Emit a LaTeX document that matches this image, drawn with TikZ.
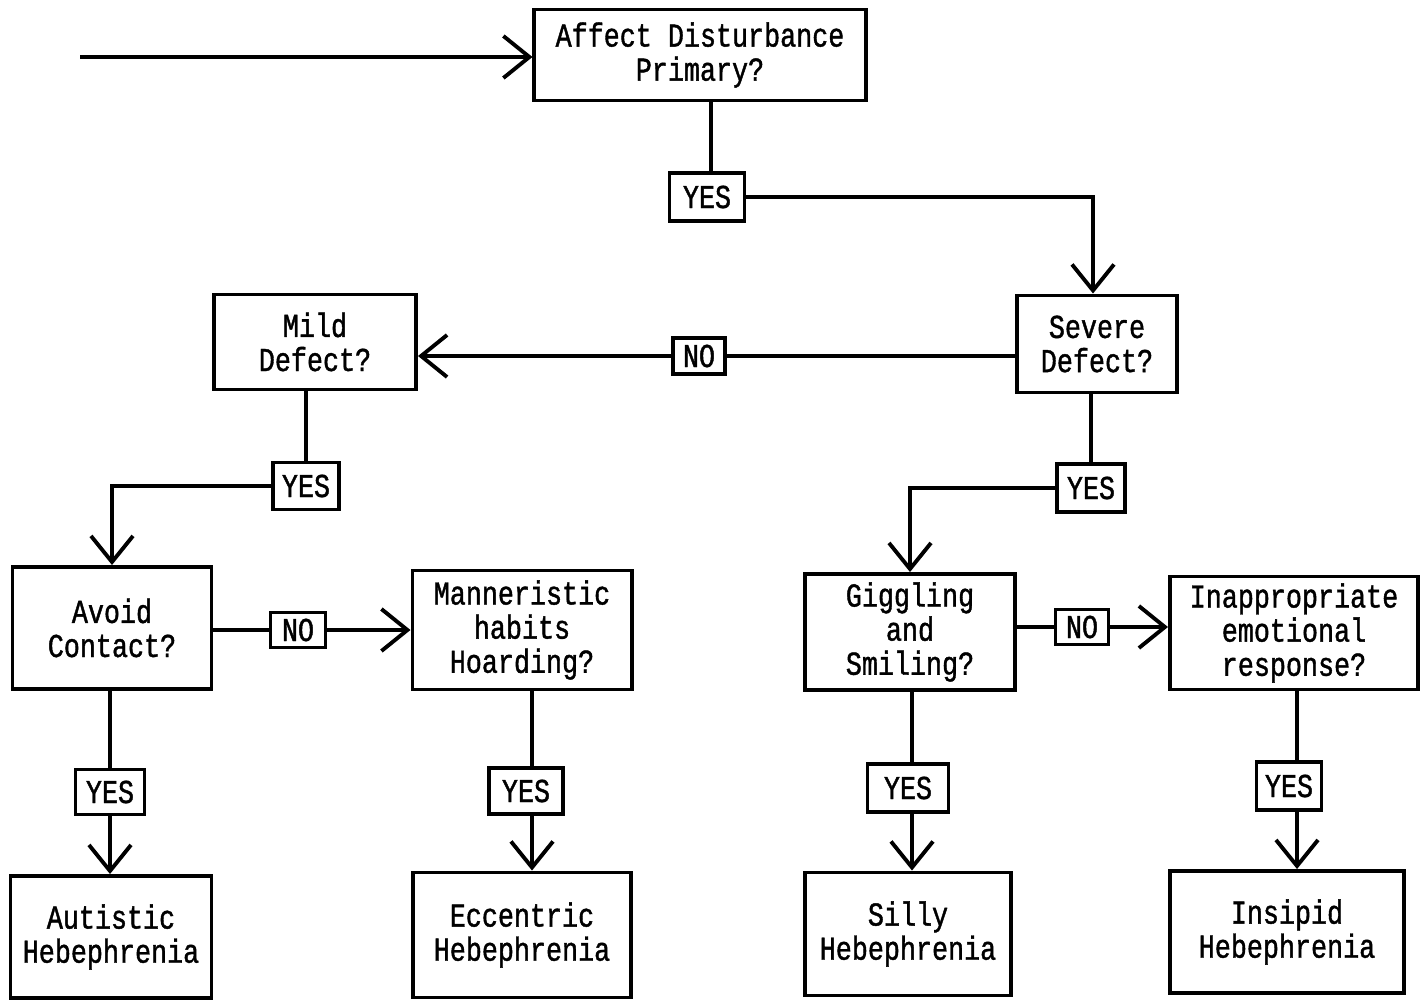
\documentclass[tikz,border=0pt]{standalone}
\usepackage{fontspec}
\newfontfamily\chartfont[FakeStretch=0.8,FakeBold=1.2]{Liberation Mono}
\usetikzlibrary{arrows.meta}

\tikzset{
  box/.style={draw, line width=1.1pt, align=center, inner sep=0pt,
    font=\chartfont\fontsize{9.5}{9.7}\selectfont},
  answer/.style={draw, line width=1.1pt, inner sep=0pt,
    font=\chartfont\fontsize{9.5}{9.7}\selectfont},
  link/.style={line width=1.1pt},
  flow/.style={line width=1.1pt, -{Straight Barb[length=2.6mm,width=4.2mm,line width=1.1pt]}}
}

\begin{document}
\begin{tikzpicture}[x=0.01cm,y=-0.01cm]
	\useasboundingbox (0,0) rectangle (1427,1000);
	
	% questions
	\node[box, minimum width=3.31cm, minimum height=0.91cm] (affect) at (700,55) {Affect Disturbance\\Primary?};
	\node[box, minimum width=1.60cm, minimum height=0.97cm] (severe) at (1097,344) {Severe\\Defect?};
	\node[box, minimum width=2.02cm, minimum height=0.95cm] (mild) at (315,342) {Mild\\Defect?};
	\node[box, minimum width=1.99cm, minimum height=1.22cm] (avoid) at (112,628) {Avoid\\Contact?};
	\node[box, minimum width=2.19cm, minimum height=1.19cm] (mannered) at (522,630) {Manneristic\\habits\\Hoarding?};
	\node[box, minimum width=2.10cm, minimum height=1.16cm] (giggle) at (910,632) {Giggling\\and\\Smiling?};
	\node[box, minimum width=2.48cm, minimum height=1.13cm] (inapt) at (1294,633) {Inappropriate\\emotional\\response?};
	
	% outcomes
	\node[box, minimum width=2.01cm, minimum height=1.22cm] (autistic) at (111,937) {Autistic\\Hebephrenia};
	\node[box, minimum width=2.18cm, minimum height=1.25cm] (eccentric) at (522,935) {Eccentric\\Hebephrenia};
	\node[box, minimum width=2.06cm, minimum height=1.23cm] (silly) at (908,934) {Silly\\Hebephrenia};
	\node[box, minimum width=2.34cm, minimum height=1.22cm] (insipid) at (1287,932) {Insipid\\Hebephrenia};
	
	% answers
	\node[answer, minimum width=0.75cm, minimum height=0.48cm] (yesA) at (707,197) {YES};
	\node[answer, minimum width=0.52cm, minimum height=0.36cm] (noS) at (699,356) {NO};
	\node[answer, minimum width=0.66cm, minimum height=0.47cm] (yesM) at (306,486) {YES};
	\node[answer, minimum width=0.68cm, minimum height=0.48cm] (yesS) at (1091,488) {YES};
	\node[answer, minimum width=0.55cm, minimum height=0.35cm] (noA) at (298,630) {NO};
	\node[answer, minimum width=0.53cm, minimum height=0.35cm] (noG) at (1082,627) {NO};
	\node[answer, minimum width=0.69cm, minimum height=0.45cm] (yesAv) at (110,792) {YES};
	\node[answer, minimum width=0.74cm, minimum height=0.46cm] (yesMa) at (526,791) {YES};
	\node[answer, minimum width=0.81cm, minimum height=0.48cm] (yesGi) at (908,788) {YES};
	\node[answer, minimum width=0.65cm, minimum height=0.48cm] (yesIn) at (1289,786) {YES};
	
	\coordinate (start) at (80,57);
	\coordinate (colA) at (711,0);
	\coordinate (colS) at (1093,0);
	\coordinate (colMa) at (532,0);
	\coordinate (colGi) at (912,0);
	\coordinate (colIn) at (1297,0);
	
	% connectors
	\draw[flow] (start) -- (start -| affect.west);
	\draw[link] (colA |- affect.south) -- (colA |- yesA.north);
	\draw[flow] (yesA.east) -| (colS |- severe.north);
	\draw[link] (severe.west |- noS) -- (noS.east);
	\draw[flow] (noS.west) -- (noS -| mild.east);
	\draw[link] (mild.south -| yesM.north) -- (yesM.north);
	\draw[flow] (yesM.west) -| (avoid.north);
	\draw[link] (severe.south -| yesS.north) -- (yesS.north);
	\draw[flow] (yesS.west) -| (giggle.north);
	\draw[link] (avoid.east |- noA) -- (noA.west);
	\draw[flow] (noA.east) -- (noA -| mannered.west);
	\draw[link] (giggle.east |- noG) -- (noG.west);
	\draw[flow] (noG.east) -- (noG -| inapt.west);
	
	\draw[link] (avoid.south -| yesAv.north) -- (yesAv.north);
	\draw[flow] (yesAv.south) -- (yesAv.south |- autistic.north);
	\draw[link] (colMa |- mannered.south) -- (colMa |- yesMa.north);
	\draw[flow] (colMa |- yesMa.south) -- (colMa |- eccentric.north);
	\draw[link] (colGi |- giggle.south) -- (colGi |- yesGi.north);
	\draw[flow] (colGi |- yesGi.south) -- (colGi |- silly.north);
	\draw[link] (colIn |- inapt.south) -- (colIn |- yesIn.north);
	\draw[flow] (colIn |- yesIn.south) -- (colIn |- insipid.north);
	
\end{tikzpicture}
\end{document}
